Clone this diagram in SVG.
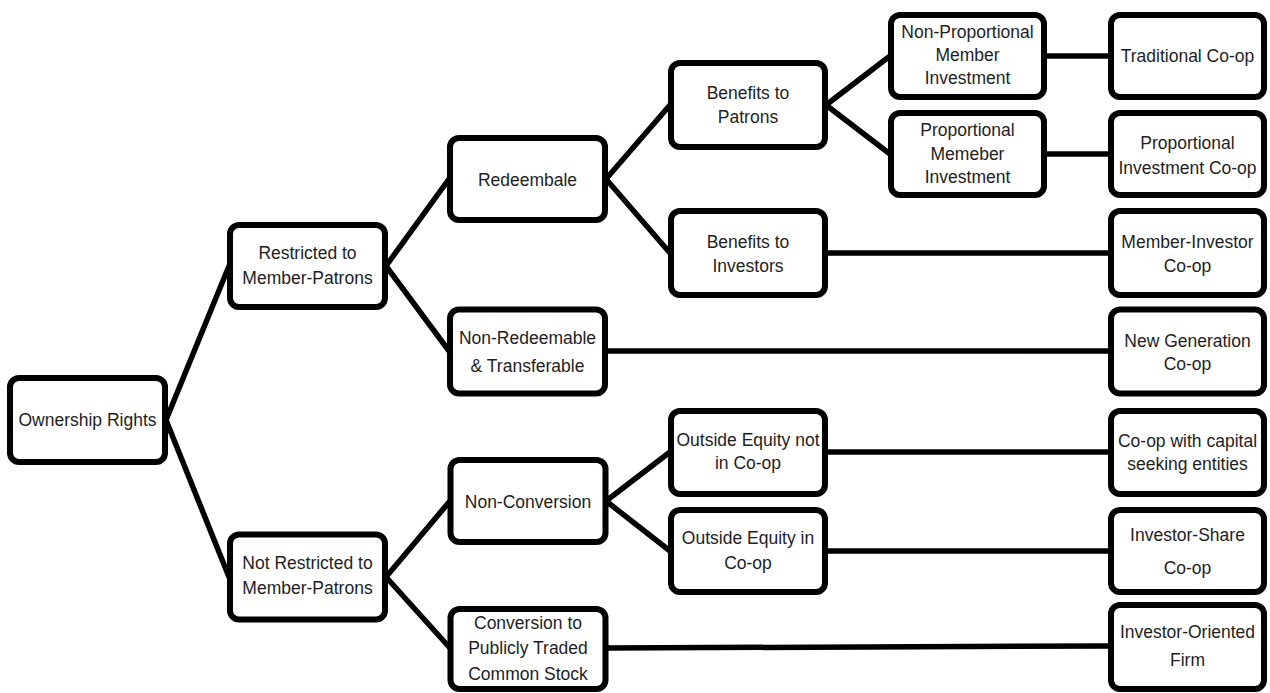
<svg xmlns="http://www.w3.org/2000/svg" width="1270" height="693" viewBox="0 0 1270 693">
<style>
.box{fill:#fff;stroke:#000;stroke-width:6}
.lbl{font-family:"Liberation Sans",Arial,sans-serif;font-size:17.5px;fill:#1e1e1e;text-anchor:middle}
#connectors line{stroke:#000;stroke-width:5.5;stroke-linecap:round}
</style>
<rect width="1270" height="693" fill="#fff"/>
<g id="connectors">
<line x1="166" y1="420" x2="229" y2="266"/>
<line x1="166" y1="420" x2="229" y2="577"/>
<line x1="386" y1="266" x2="449" y2="179"/>
<line x1="386" y1="266" x2="449" y2="351"/>
<line x1="606" y1="179" x2="670" y2="105"/>
<line x1="606" y1="179" x2="670" y2="253"/>
<line x1="826" y1="105" x2="890" y2="56"/>
<line x1="826" y1="105" x2="890" y2="154"/>
<line x1="1045" y1="56" x2="1110" y2="56"/>
<line x1="1045" y1="154" x2="1110" y2="154"/>
<line x1="826" y1="253" x2="1110" y2="253"/>
<line x1="606" y1="351" x2="1110" y2="351"/>
<line x1="386" y1="577" x2="450" y2="501"/>
<line x1="386" y1="577" x2="450" y2="648"/>
<line x1="606" y1="501" x2="670" y2="452"/>
<line x1="606" y1="501" x2="670" y2="551"/>
<line x1="826" y1="452" x2="1110" y2="452"/>
<line x1="826" y1="551" x2="1110" y2="551"/>
<line x1="606" y1="648" x2="1110" y2="646"/>
</g>
<g id="own"><rect class="box" x="10" y="378" width="155" height="84" rx="9"/><text class="lbl" x="87.5" y="426">Ownership Rights</text></g>
<g id="restr"><rect class="box" x="230" y="225" width="155" height="82" rx="9"/><text class="lbl" x="307.5" y="259">Restricted to</text><text class="lbl" x="307.5" y="284">Member-Patrons</text></g>
<g id="notr"><rect class="box" x="230" y="534.5" width="155" height="85" rx="9"/><text class="lbl" x="307.5" y="569">Not Restricted to</text><text class="lbl" x="307.5" y="594">Member-Patrons</text></g>
<g id="redeem"><rect class="box" x="450" y="138" width="155" height="82" rx="9"/><text class="lbl" x="527.5" y="186">Redeembale</text></g>
<g id="nonred"><rect class="box" x="450" y="309.5" width="155" height="84" rx="9"/><text class="lbl" x="527.5" y="344">Non-Redeemable</text><text class="lbl" x="527.5" y="372">&amp; Transferable</text></g>
<g id="nonconv"><rect class="box" x="450.5" y="460" width="155" height="82" rx="9"/><text class="lbl" x="528" y="508">Non-Conversion</text></g>
<g id="conv"><rect class="box" x="450.5" y="609" width="155" height="80" rx="9"/><text class="lbl" x="528" y="629">Conversion to</text><text class="lbl" x="528" y="654">Publicly Traded</text><text class="lbl" x="528" y="680">Common Stock</text></g>
<g id="btp"><rect class="box" x="671" y="63" width="154" height="84" rx="9"/><text class="lbl" x="748" y="99">Benefits to</text><text class="lbl" x="748" y="123">Patrons</text></g>
<g id="bti"><rect class="box" x="671" y="211" width="154" height="84" rx="9"/><text class="lbl" x="748" y="248">Benefits to</text><text class="lbl" x="748" y="272">Investors</text></g>
<g id="oenc"><rect class="box" x="671" y="411" width="154" height="83" rx="9"/><text class="lbl" x="748" y="446">Outside Equity not</text><text class="lbl" x="748" y="469">in Co-op</text></g>
<g id="oec"><rect class="box" x="671" y="510" width="154" height="82" rx="9"/><text class="lbl" x="748" y="544">Outside Equity in</text><text class="lbl" x="748" y="569">Co-op</text></g>
<g id="np"><rect class="box" x="891" y="15" width="153" height="82" rx="9"/><text class="lbl" x="967.5" y="38">Non-Proportional</text><text class="lbl" x="967.5" y="61">Member</text><text class="lbl" x="967.5" y="84">Investment</text></g>
<g id="pmi"><rect class="box" x="891" y="113" width="153" height="82" rx="9"/><text class="lbl" x="967.5" y="136">Proportional</text><text class="lbl" x="967.5" y="160">Memeber</text><text class="lbl" x="967.5" y="183">Investment</text></g>
<g id="trad"><rect class="box" x="1111" y="15" width="153" height="82" rx="9"/><text class="lbl" x="1187.5" y="62">Traditional Co-op</text></g>
<g id="pic"><rect class="box" x="1111" y="113" width="153" height="82" rx="9"/><text class="lbl" x="1187.5" y="149">Proportional</text><text class="lbl" x="1187.5" y="174">Investment Co-op</text></g>
<g id="mic"><rect class="box" x="1111" y="211" width="153" height="84" rx="9"/><text class="lbl" x="1187.5" y="248">Member-Investor</text><text class="lbl" x="1187.5" y="272">Co-op</text></g>
<g id="ngc"><rect class="box" x="1111" y="309.5" width="153" height="84" rx="9"/><text class="lbl" x="1187.5" y="347">New Generation</text><text class="lbl" x="1187.5" y="370">Co-op</text></g>
<g id="cwc"><rect class="box" x="1111" y="411" width="153" height="83" rx="9"/><text class="lbl" x="1187.5" y="447">Co-op with capital</text><text class="lbl" x="1187.5" y="470">seeking entities</text></g>
<g id="isc"><rect class="box" x="1111" y="510" width="153" height="82" rx="9"/><text class="lbl" x="1187.5" y="541">Investor-Share</text><text class="lbl" x="1187.5" y="574">Co-op</text></g>
<g id="iof"><rect class="box" x="1111" y="605" width="153" height="84" rx="9"/><text class="lbl" x="1187.5" y="638">Investor-Oriented</text><text class="lbl" x="1187.5" y="666">Firm</text></g>
</svg>
